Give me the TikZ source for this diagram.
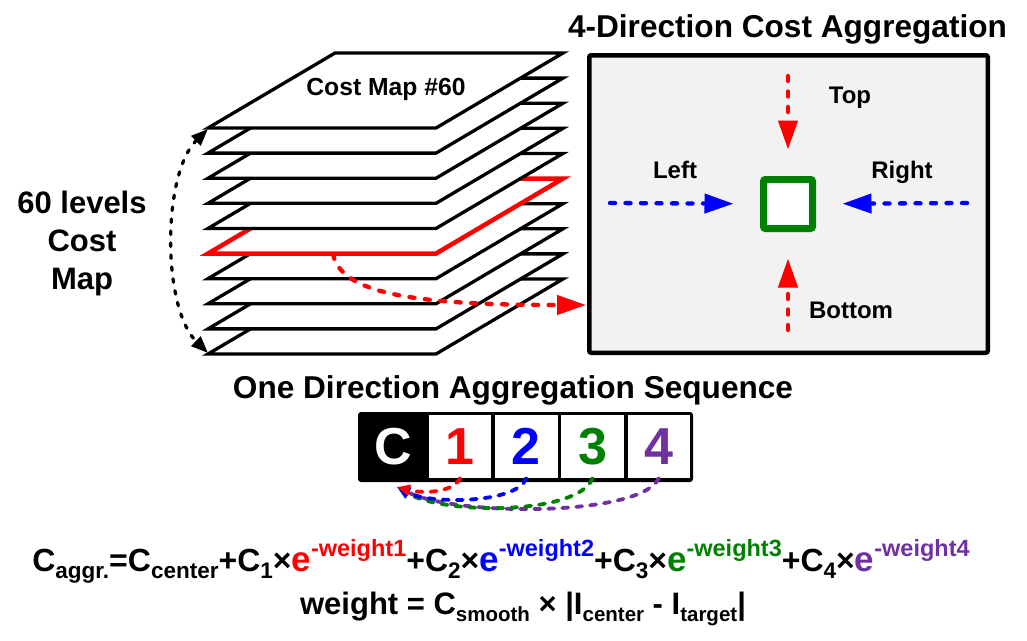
\documentclass[tikz,border=0pt]{standalone}
\usepackage{fontspec}
\setmainfont{Liberation Sans}
\definecolor{aggrgreen}{RGB}{0,128,0}
\definecolor{aggrpurple}{RGB}{112,48,160}
\definecolor{panelgray}{RGB}{242,242,242}
\usetikzlibrary{positioning}
\usetikzlibrary{arrows.meta}
\newcommand{\costlo}[1]{\raisebox{-7pt}{\fontsize{22.5}{23}\selectfont #1}}
\newcommand{\costhi}[1]{\raisebox{15pt}{\fontsize{23.5}{24}\selectfont #1}}
\newcommand{\coste}{{\fontsize{35}{36}\selectfont e}}
\newcommand{\costlosm}[1]{\raisebox{-7pt}{\fontsize{20.5}{22}\selectfont #1}}
\tikzset{
  plane/.style={fill=white, line join=miter},
  lbl/.style={font=\fontsize{24}{28}\selectfont\bfseries, anchor=base},
  dirarrow/.style={line width=4.3pt, dash pattern=on 5pt off 10.5pt, line cap=round, -{Triangle[length=29pt,width=19pt]}},
  seqarrow/.style={line width=3.8pt, dash pattern=on 6pt off 8pt, line cap=round, -{Triangle[length=13pt,width=11pt]}},
  cellbox/.style={fill=white, minimum width=62.3pt, minimum height=63pt, inner sep=0pt, font=\fontsize{52}{52}\selectfont\bfseries},
}

\begin{document}
\begin{tikzpicture}[x=1pt,y=-1pt]
  \useasboundingbox (0,0) rectangle (1027,640);

  % stack of cost maps, lowest first
  \foreach \i/\col/\lw in {0/black/3.3,1/black/3.3,2/black/3.3,3/black/3.3,4/red/4.5,5/black/3.3,6/black/3.3,7/black/3.3,8/black/3.3,9/black/3.3}
    \draw [plane, draw=\col, line width=\lw pt] (208,354-25.11*\i) -- ++(228,0) -- ++(127,-75) -- ++(-228,0) -- cycle;

  \node [font=\fontsize{24.7}{28}\selectfont\bfseries] (mapname) at (386,89) {Cost Map \#60};

  % levels:
  \coordinate (stacktop) at (208,129);
  \coordinate (stackbot) at (208,353);
  \draw [line width=3.3pt, dash pattern=on 3.5pt off 8.5pt, line cap=round, {Triangle[length=17pt,width=13pt]}-{Triangle[length=17pt,width=13pt]}] (stacktop) .. controls +(-46,45) and +(-46,-45) .. (stackbot);
  \node [align=center, font=\fontsize{31}{38}\selectfont\bfseries] (levels) at (82,243) {60 levels\\Cost\\Map};

  % panel:
  \node [draw, line width=4.5pt, fill=panelgray, rounded corners=2pt, minimum width=398.5pt, minimum height=297.5pt] (panel) at (788.5,204) {};
  \node [font=\fontsize{31.6}{36}\selectfont\bfseries, anchor=base] (title) at (787.5,37) {4-Direction Cost Aggregation};
  \node [draw=aggrgreen, fill=white, line width=7pt, rounded corners=2pt, minimum size=49pt] (cell) at (788,204) {};

  \coordinate (topin) at (788,76);
  \coordinate (botin) at (788,330);
  \coordinate (leftin) at (610,203);
  \coordinate (rightin) at (967,203);
  \draw [dirarrow, red, shorten >=26.5pt] (topin) -- (cell);
  \draw [dirarrow, red, shorten >=26.5pt] (botin) -- (cell);
  \draw [dirarrow, blue, shorten >=26.5pt] (leftin) -- (cell);
  \draw [dirarrow, blue, shorten >=26.5pt] (rightin) -- (cell);

  \node [lbl] (toplbl) at (850,103) {Top};
  \node [lbl] (botlbl) at (851,318) {Bottom};
  \node [lbl] (leftlbl) at (675,178) {Left};
  \node [lbl] (rightlbl) at (902,178) {Right};

  % red map to panel:
  \coordinate (redmark) at (333,254);
  \coordinate (panelin) at (586,305);
  \draw [dirarrow, red] (redmark) .. controls +(8,40) and +(-170,0) .. (panelin);

  % sequence:
  \node [font=\fontsize{31.6}{36}\selectfont\bfseries, anchor=base] (seqtitle) at (513,398) {One Direction Aggregation Sequence};
  \node [fill=black, rounded corners=3pt, minimum width=335pt, minimum height=70pt, inner sep=0pt] (seq) at (525.5,447) {};
  \node [text=white, font=\fontsize{52}{52}\selectfont\bfseries, minimum width=71pt, minimum height=70pt, inner sep=0pt] (c) at (393.5,447) {C};
  \node [cellbox, text=red] (s1) at (460.15,446.5) {1};
  \node [cellbox, text=blue, right=3.5pt of s1] (s2) {2};
  \node [cellbox, text=aggrgreen, right=3.5pt of s2] (s3) {3};
  \node [cellbox, text=aggrpurple, right=3.5pt of s3] (s4) {4};

  \coordinate (cfoot) at (397,487);
  \draw [seqarrow, aggrpurple] (s4.south) .. controls +(-17,38) and +(62,30) .. (cfoot);
  \draw [seqarrow, aggrgreen] (s3.south) .. controls +(-14,37) and +(47,28) .. (cfoot);
  \draw [seqarrow, blue] (s2.south) .. controls +(-10,26) and +(32,17) .. (cfoot);
  \draw [seqarrow, red] (s1.south) .. controls +(-8,16) and +(22,6) .. (cfoot);

  % formulas:
  \node [anchor=base, font=\fontsize{32}{36}\selectfont\bfseries] (aggr) at (501,571) {C\costlo{aggr.}=C\costlo{center}+C\costlo{1}×\textcolor{red}{\coste\costhi{-weight1}}+C\costlo{2}×\textcolor{blue}{\coste\costhi{-weight2}}+C\costlo{3}×\textcolor{aggrgreen}{\coste\costhi{-weight3}}+C\costlo{4}×\textcolor{aggrpurple}{\coste\costhi{-weight4}}};
  \node [anchor=base, font=\fontsize{31}{36}\selectfont\bfseries] (weight) at (523,614) {weight = C\costlosm{smooth} × |I\costlosm{center} - I\costlosm{target}|};
\end{tikzpicture}
\end{document}
